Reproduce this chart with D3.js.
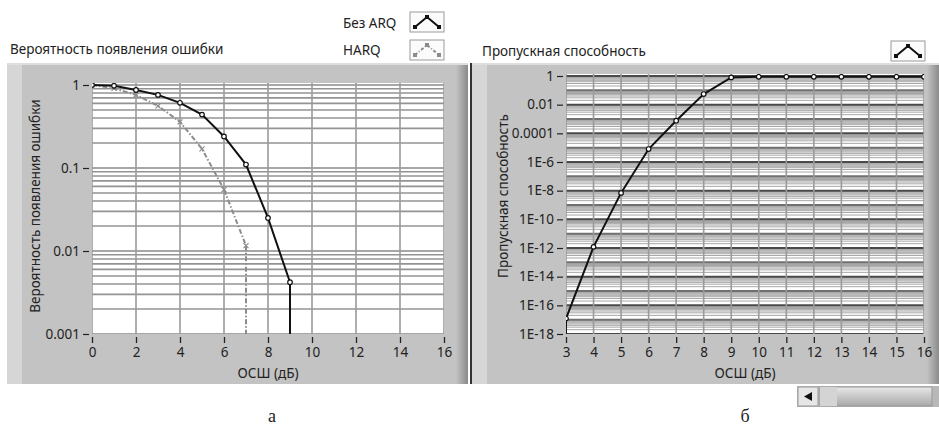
<!DOCTYPE html>
<html>
<head>
<meta charset="utf-8">
<script src="https://cdn.jsdelivr.net/npm/d3@7"></script>
<style>
body { margin: 0; background: #fff; }
svg { display: block; font-family: "Noto Sans", "DejaVu Sans", sans-serif; }
</style>
</head>
<body>
<div id="graph"></div>
<script>
// data
var snrA = [0, 1, 2, 3, 4, 5, 6, 7, 8, 9, 10];
var noArq = [1, 0.98, 0.87, 0.76, 0.61, 0.44, 0.24, 0.11, 0.025, 0.0042, 0];
var snrH = [0, 1, 2, 3, 4, 5, 6, 7, 8];
var harq = [1, 0.91, 0.76, 0.56, 0.36, 0.17, 0.055, 0.0116, 0];
var snrB = [2, 3, 4, 5, 6, 7, 8, 9, 10, 11, 12, 13, 14, 15, 16];
var thru = [0, 1.2e-17, 1.2e-12, 7e-9, 8e-6, 7.6e-4, 0.055, 0.8, 0.88, 0.88, 0.88, 0.88, 0.88, 0.88, 0.88];
var xTicksA = [0, 2, 4, 6, 8, 10, 12, 14, 16];
var yTicksA = [1, 0.1, 0.01, 0.001];
var xTicksB = [3, 4, 5, 6, 7, 8, 9, 10, 11, 12, 13, 14, 15, 16];
var yTicksB = [1, 1e-2, 1e-4, 1e-6, 1e-8, 1e-10, 1e-12, 1e-14, 1e-16, 1e-18];
var legendNames = ["Без ARQ", "HARQ"];

var FS = 13.5;
var svg = d3.select("#graph").append("svg").attr("width", 939).attr("height", 430);
var defs = svg.append("defs");

var gr = defs.append("linearGradient").attr("id", "edgeR").attr("x1", 0).attr("x2", 1);
gr.append("stop").attr("offset", 0).attr("stop-color", "#c3c3c3");
gr.append("stop").attr("offset", 1).attr("stop-color", "#8a8a8a");
var gt = defs.append("linearGradient").attr("id", "thumb").attr("x1", 0).attr("x2", 0).attr("y1", 0).attr("y2", 1);
gt.append("stop").attr("offset", 0).attr("stop-color", "#e8e8e8");
gt.append("stop").attr("offset", 1).attr("stop-color", "#a8a8a8");

function panel(x, w) {
	svg.append("rect").attr("x", x).attr("y", 63).attr("width", w).attr("height", 321).attr("fill", "#c3c3c3");
	svg.append("rect").attr("x", x).attr("y", 63).attr("width", 15).attr("height", 321).attr("fill", "#d6d6d6");
	svg.append("rect").attr("x", x + w - 12).attr("y", 63).attr("width", 12).attr("height", 321).attr("fill", "url(#edgeR)");
	svg.append("rect").attr("x", x).attr("y", 63).attr("width", w).attr("height", 2).attr("fill", "#dedede");
}
panel(7, 461);
svg.append("rect").attr("x", 470).attr("y", 63).attr("width", 2).attr("height", 321).attr("fill", "#333");
panel(472, 467);

function chart(o) {
	var x = d3.scaleLinear().domain(o.xd).range([o.l, o.r]);
	var y = d3.scaleLog().domain(o.yd).range([o.b, o.t]);
	var g = svg.append("g");
	var id = "clip" + o.l;
	defs.append("clipPath").attr("id", id).append("rect")
		.attr("x", o.l).attr("y", o.t - 2).attr("width", o.r - o.l).attr("height", o.b - o.t + 2);
	g.append("rect").attr("x", o.l).attr("y", o.t - 2).attr("width", o.r - o.l).attr("height", o.b - o.t + 2).attr("fill", "#fff");

	// grid
	var lo = Math.round(Math.log10(o.yd[0])), hi = Math.round(Math.log10(o.yd[1]));
	var minors = [], majors = [];
	for (var e = lo; e < hi; e++) {
		majors.push(Math.pow(10, e));
		for (var m = 2; m < 10; m++) minors.push(m * Math.pow(10, e));
	}
	majors.push(Math.pow(10, hi));
	var grid = g.append("g").attr("clip-path", "url(#" + id + ")");
	grid.selectAll(".mn").data(minors).enter().append("line")
		.attr("x1", o.l).attr("x2", o.r)
		.attr("y1", function(d) { return y(d); }).attr("y2", function(d) { return y(d); })
		.attr("stroke", o.minorCol).attr("stroke-width", o.minorW);
	grid.selectAll(".mj").data(majors).enter().append("line")
		.attr("x1", o.l).attr("x2", o.r)
		.attr("y1", function(d) { return y(d); }).attr("y2", function(d) { return y(d); })
		.attr("stroke", function(d) { return o.yTicks.indexOf(d) >= 0 ? o.majorCol : o.midCol; })
		.attr("stroke-width", o.majorW);
	grid.selectAll(".vx").data(o.xTicks).enter().append("line")
		.attr("x1", function(d) { return x(d); }).attr("x2", function(d) { return x(d); })
		.attr("y1", o.t - 2).attr("y2", o.b)
		.attr("stroke", "#9a9a9a").attr("stroke-width", 1.6);

	// axes
	var ax = d3.axisBottom(x).tickValues(o.xTicks).tickSize(6).tickPadding(4).tickSizeOuter(0);
	var axg = g.append("g").attr("transform", "translate(0," + (o.b + 3) + ")").call(ax);
	axg.select(".domain").remove();
	axg.selectAll("line").attr("stroke", "#222").attr("stroke-width", 1.3);
	axg.selectAll("text").attr("font-size", FS).attr("fill", "#222").attr("font-family", "Noto Sans");

	var ay = d3.axisLeft(y).tickValues(o.yTicks).tickFormat(o.fmt).tickSize(6).tickPadding(3).tickSizeOuter(0);
	var ayg = g.append("g").attr("transform", "translate(" + (o.l - 3) + ",0)").call(ay);
	ayg.select(".domain").remove();
	ayg.selectAll("line").attr("stroke", "#222").attr("stroke-width", 1.2);
	ayg.selectAll("text").attr("font-size", FS).attr("fill", "#222").attr("font-family", "Noto Sans");

	g.append("text").attr("x", (o.l + o.r) / 2).attr("y", o.b + 44).attr("text-anchor", "middle")
		.attr("font-size", FS).attr("fill", "#222").text("ОСШ (дБ)");
	g.append("text").attr("transform", "translate(" + o.yl + "," + o.ym + ") rotate(-90)")
		.attr("text-anchor", "middle").attr("font-size", FS).attr("fill", "#222").text(o.ytitle);

	var plot = g.append("g").attr("clip-path", "url(#" + id + ")");
	o.series.forEach(function(s) {
		var pts = s.x.map(function(v, i) { return { x: v, y: s.y[i] }; });
		var line = d3.line().defined(function(d) { return d.y > 0; })
			.x(function(d) { return x(d.x); }).y(function(d) { return y(d.y); });
		var path = plot.append("path").datum(pts).attr("d", line).attr("fill", "none")
			.attr("stroke", s.color).attr("stroke-width", s.w);
		if (s.dash) path.attr("stroke-dasharray", s.dash);
		// value 0 on a log scale: drop straight down from the neighbouring point
		pts.forEach(function(d, i) {
			if (d.y > 0) return;
			var nb = pts[i - 1] && pts[i - 1].y > 0 ? pts[i - 1] : (pts[i + 1] && pts[i + 1].y > 0 ? pts[i + 1] : null);
			if (!nb) return;
			var v = plot.append("line").attr("x1", x(nb.x)).attr("x2", x(nb.x))
				.attr("y1", y(nb.y)).attr("y2", o.b + 2)
				.attr("stroke", s.color).attr("stroke-width", s.w);
			if (s.dash) v.attr("stroke-dasharray", s.dash);
		});
		var mk = pts.filter(function(d) { return d.y > 0; });
		if (s.marker == "o") {
			plot.selectAll(null).data(mk).enter().append("circle")
				.attr("cx", function(d) { return x(d.x); }).attr("cy", function(d) { return y(d.y); })
				.attr("r", 2.3).attr("fill", "#fff").attr("stroke", s.color).attr("stroke-width", 1.2);
		} else {
			plot.selectAll(null).data(mk).enter().append("path")
				.attr("d", function(d) { var cx = x(d.x), cy = y(d.y);
					return "M" + (cx - 2.5) + "," + (cy - 2.5) + "L" + (cx + 2.5) + "," + (cy + 2.5) +
						"M" + (cx - 2.5) + "," + (cy + 2.5) + "L" + (cx + 2.5) + "," + (cy - 2.5); })
				.attr("stroke", s.color).attr("stroke-width", 1.2);
		}
	});
}

chart({
	l: 92, r: 444, t: 85, b: 334, xd: [0, 16], yd: [0.001, 1],
	xTicks: xTicksA, yTicks: yTicksA, fmt: d3.format(""),
	minorCol: "#939393", minorW: 1.6, majorCol: "#8a8a8a", midCol: "#8a8a8a", majorW: 1.6,
	yl: 40, ym: 206, ytitle: "Вероятность появления ошибки",
	series: [
		{ x: snrH, y: harq, color: "#8c8c8c", w: 2, dash: "5,2,1.5,2", marker: "x" },
		{ x: snrA, y: noArq, color: "#111", w: 2, marker: "o" }
	]
});

chart({
	l: 566, r: 924, t: 76, b: 334, xd: [3, 16], yd: [1e-18, 1],
	xTicks: xTicksB, yTicks: yTicksB,
	fmt: function(d) { var e = Math.round(Math.log10(d)); return e >= -4 ? d3.format("")(d) : "1E" + e; },
	minorCol: "#a6a6a6", minorW: 1, majorCol: "#4a4a4a", midCol: "#707070", majorW: 2,
	yl: 508, ym: 196, ytitle: "Пропускная способность",
	series: [
		{ x: snrB, y: thru, color: "#111", w: 2, marker: "o" }
	]
});

// titles and legends
svg.append("text").attr("x", 10).attr("y", 54).attr("font-size", FS).attr("fill", "#222").text("Вероятность появления ошибки");
svg.append("text").attr("x", 482).attr("y", 56).attr("font-size", FS).attr("fill", "#222").text("Пропускная способность");

function legendBox(bx, by, color, dash) {
	svg.append("rect").attr("x", bx).attr("y", by).attr("width", 34).attr("height", 20)
		.attr("fill", "#fbfbfb").attr("stroke", "#9a9a9a");
	var pts = [[bx + 5, by + 15], [bx + 17, by + 5], [bx + 29, by + 15]];
	var p = svg.append("path").attr("d", d3.line()(pts))
		.attr("fill", "none").attr("stroke", color).attr("stroke-width", 2);
	if (dash) p.attr("stroke-dasharray", dash);
	svg.selectAll(null).data(pts).enter().append("rect")
		.attr("x", function(d) { return d[0] - 2; }).attr("y", function(d) { return d[1] - 2; })
		.attr("width", 4).attr("height", 4).attr("fill", color);
}
svg.append("text").attr("x", 343).attr("y", 28).attr("font-size", FS).attr("fill", "#222").text(legendNames[0]);
svg.append("text").attr("x", 343).attr("y", 55).attr("font-size", FS).attr("fill", "#222").text(legendNames[1]);
legendBox(410, 12, "#111");
legendBox(410, 40, "#8c8c8c", "3,2,1,2");
legendBox(891, 41, "#111");

// scrollbar
svg.append("rect").attr("x", 797).attr("y", 386).attr("width", 142).attr("height", 21).attr("fill", "#b8b8b8");
svg.append("rect").attr("x", 798).attr("y", 387).attr("width", 20).attr("height", 19).attr("fill", "#e6e6e6").attr("stroke", "#999");
svg.append("path").attr("d", "M804,396.5L812,392L812,401Z").attr("fill", "#111");
svg.append("rect").attr("x", 820).attr("y", 387).attr("width", 112).attr("height", 19).attr("fill", "url(#thumb)").attr("stroke", "#999");
svg.append("rect").attr("x", 820).attr("y", 387).attr("width", 17).attr("height", 19).attr("fill", "#d4d4d4");

// captions
svg.append("text").attr("x", 272).attr("y", 422).attr("text-anchor", "middle").attr("font-family", "Liberation Serif")
	.attr("font-size", 18).attr("fill", "#222").text("а");
svg.append("text").attr("x", 745).attr("y", 422).attr("text-anchor", "middle").attr("font-family", "Liberation Serif")
	.attr("font-size", 18).attr("fill", "#222").text("б");
</script>
</body>
</html>
